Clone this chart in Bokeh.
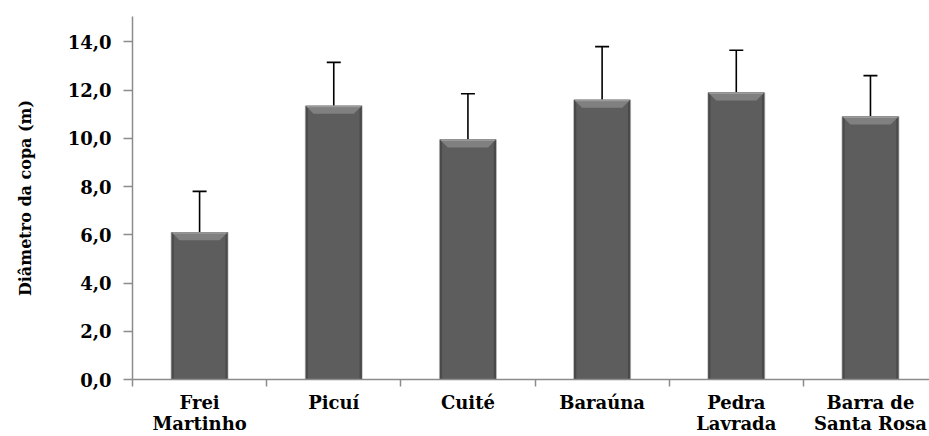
from bokeh.plotting import figure
from bokeh.models import Range1d, FixedTicker, Whisker, TeeHead, ColumnDataSource
from bokeh.embed import file_html
from bokeh.resources import INLINE

# Mean crown diameter (m) and standard deviation per locality
localities = ["Frei\nMartinho", "Picuí", "Cuité", "Baraúna", "Pedra\nLavrada", "Barra de\nSanta Rosa"]
diameter = [6.1, 11.35, 9.95, 11.6, 11.9, 10.9]
std_dev = [1.7, 1.8, 1.9, 2.2, 1.75, 1.7]
y_ticks = [0, 2, 4, 6, 8, 10, 12, 14]
y_tick_labels = ["0,0", "2,0", "4,0", "6,0", "8,0", "10,0", "12,0", "14,0"]

FONT = "DejaVu Serif"
AXIS_GRAY = "#8c8c8c"
BAR_W = 0.42

xs = [i + 0.5 for i in range(len(localities))]
upper = [d + s for d, s in zip(diameter, std_dev)]

p = figure(width=929, height=436, output_backend="svg", toolbar_location=None,
           x_range=Range1d(0, 5.94), y_range=Range1d(0, 15.05),
           min_border_left=132, min_border_right=0, min_border_top=16, min_border_bottom=57)
p.outline_line_color = None
p.xgrid.visible = False
p.ygrid.visible = False
p.background_fill_color = "white"
p.border_fill_color = "white"

# bar halo, body, lighter centre and bevelled top
bevel_h = 0.33
inset = 0.06
p.vbar(x=xs, top=diameter, width=BAR_W + 0.012, bottom=0, fill_color="#c4c4c4", line_color=None)
p.vbar(x=xs, top=diameter, width=BAR_W, bottom=0, fill_color="#4a4a4a", line_color=None)
p.vbar(x=xs, top=[d - 0.1 for d in diameter], width=BAR_W - 0.035, bottom=0,
       fill_color="#5d5d5d", line_color=None)
bev_x = []
bev_y = []
for x, d in zip(xs, diameter):
    l, r = x - BAR_W / 2, x + BAR_W / 2
    bev_x.append([l, r, r - inset, l + inset])
    bev_y.append([d, d, d - bevel_h, d - bevel_h])
p.patches(bev_x, bev_y, fill_color="#808080", line_color=None)
p.segment(x0=[x - BAR_W / 2 + 0.01 for x in xs], x1=[x + BAR_W / 2 - 0.01 for x in xs],
          y0=[d - 0.03 for d in diameter], y1=[d - 0.03 for d in diameter],
          line_color="#9a9a9a", line_width=1.5)

# upward-only error bars
err_src = ColumnDataSource(dict(x=xs, lower=diameter, upper=upper))
p.add_layout(Whisker(source=err_src, base="x", lower="lower", upper="upper",
                     line_color="black", line_width=1.6, lower_head=None,
                     upper_head=TeeHead(size=14, line_color="black", line_width=1.6)))

# y axis
yax = p.yaxis[0]
yax.ticker = FixedTicker(ticks=y_ticks)
yax.major_label_overrides = {t: lab for t, lab in zip(y_ticks, y_tick_labels)}
yax.minor_tick_line_color = None
yax.major_tick_out = 9
yax.major_tick_in = 0
yax.major_tick_line_color = AXIS_GRAY
yax.major_tick_line_width = 1.5
yax.axis_line_color = AXIS_GRAY
yax.axis_line_width = 1.5
yax.major_label_text_font = FONT
yax.major_label_text_font_style = "bold"
yax.major_label_text_font_size = "18px"
yax.major_label_text_color = "black"
yax.major_label_standoff = 12
yax.axis_label = "Diâmetro da copa (m)"
yax.axis_label_text_font = FONT
yax.axis_label_text_font_style = "bold"
yax.axis_label_text_font_size = "16px"
yax.axis_label_text_color = "black"
yax.axis_label_standoff = 30

# x axis: separators between localities, names centred under bars
xax = p.xaxis[0]
xax.ticker = FixedTicker(ticks=xs, minor_ticks=list(range(len(localities) + 1)))
xax.major_label_overrides = {x: lab for x, lab in zip(xs, localities)}
xax.major_tick_out = 0
xax.major_tick_in = 0
xax.minor_tick_out = 7
xax.minor_tick_in = 0
xax.minor_tick_line_color = AXIS_GRAY
xax.minor_tick_line_width = 1.5
xax.axis_line_color = AXIS_GRAY
xax.axis_line_width = 1.5
xax.major_label_text_font = FONT
xax.major_label_text_font_style = "bold"
xax.major_label_text_font_size = "18px"
xax.major_label_text_color = "black"
xax.major_label_standoff = 5
xax.major_label_text_line_height = 1.0

open("out.html", "w").write(file_html(p, INLINE))
